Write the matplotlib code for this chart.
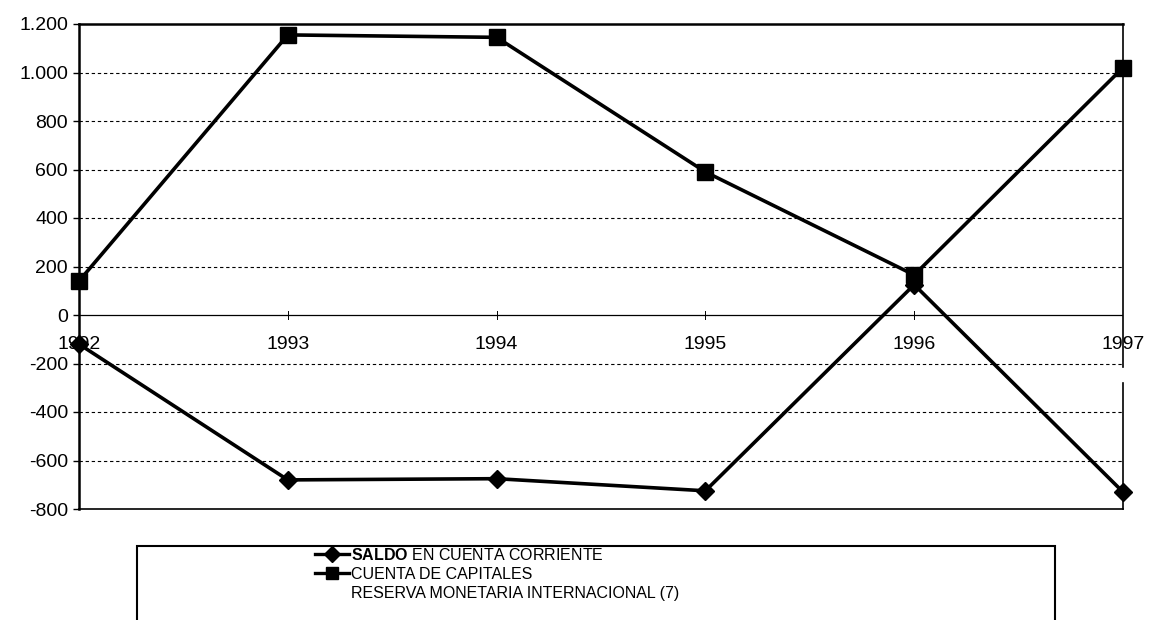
import matplotlib
matplotlib.use("Agg")
import matplotlib.pyplot as plt
from matplotlib.lines import Line2D
from matplotlib.patches import Rectangle
from matplotlib import rcParams

rcParams.update({
    "font.family": ["Liberation Sans", "DejaVu Sans"],
    "mathtext.fontset": "custom",
    "mathtext.rm": "Liberation Sans",
    "mathtext.bf": "Liberation Sans:bold",
})

# --- datos ---
anios = [1992, 1993, 1994, 1995, 1996, 1997]
saldo_cuenta_corriente = [-120, -680, -675, -725, 125, -730]
cuenta_capitales = [140, 1155, 1145, 590, 165, 1020]
y_ticks = [-800, -600, -400, -200, 0, 200, 400, 600, 800, 1000, 1200]
y_labels = ["-800", "-600", "-400", "-200", "0", "200", "400", "600", "800", "1.000", "1.200"]
etiquetas_leyenda = [
    r"$\mathbf{SALDO}$ EN CUENTA CORRIENTE",
    "CUENTA DE CAPITALES",
    "RESERVA MONETARIA INTERNACIONAL (7)",
]

fig = plt.figure(figsize=(11.49, 6.2), dpi=100)
ax = fig.add_axes([79 / 1149, 1 - 509 / 620, (1123 - 79) / 1149, (509 - 24) / 620])

ax.set_xlim(anios[0], anios[-1])
ax.set_ylim(-800, 1200)

# rejilla punteada
for v in y_ticks:
    if v in (0, -800, 1200):
        continue
    ax.axhline(v, color="black", lw=0.8, ls=(0, (3, 2.5)), zorder=1)
ax.axhline(0, color="black", lw=0.9, zorder=1)

# marcas pequeñas sobre el eje cero
for a in anios[1:-1]:
    ax.plot([a, a], [-15, 15], color="black", lw=0.7, zorder=1)

ax.plot(anios, saldo_cuenta_corriente, color="black", lw=2.6, marker="D",
        markersize=9, clip_on=False, zorder=3)
ax.plot(anios, cuenta_capitales, color="black", lw=2.6, marker="s",
        markersize=11, clip_on=False, zorder=3)

# etiquetas de años bajo la línea cero
for a in anios:
    ax.annotate(str(a), (a, 0), xytext=(0, -15), textcoords="offset points",
                ha="center", va="top", fontsize=14)

ax.set_xticks([])
ax.set_yticks(y_ticks)
ax.set_yticklabels(y_labels, fontsize=14)
ax.tick_params(axis="y", length=4, width=1, pad=4)

ax.spines["left"].set_linewidth(1.8)
ax.spines["top"].set_linewidth(1.8)
ax.spines["bottom"].set_linewidth(1.2)
ax.spines["right"].set_visible(False)
# borde derecho con un corte cerca de la etiqueta 1997
ax.plot([1, 1], [1, 0.293], transform=ax.transAxes, color="black", lw=1.2, clip_on=False)
ax.plot([1, 1], [0.26, 0], transform=ax.transAxes, color="black", lw=1.2, clip_on=False)

# leyenda
fig.add_artist(Rectangle((137 / 1149, -0.05), (1055 - 137) / 1149, 1 - 546 / 620 + 0.05,
                         transform=fig.transFigure, fill=False, lw=1.5, ec="black"))
handles = [
    Line2D([], [], color="black", lw=2.4, marker="D", markersize=8),
    Line2D([], [], color="black", lw=2.4, marker="s", markersize=9),
    Line2D([], [], color="none"),
]
leg = fig.legend(handles, etiquetas_leyenda, loc="upper left",
                 bbox_to_anchor=(315 / 1149, 1 - 547 / 620),
                 frameon=False, handlelength=2.1, handletextpad=0.15,
                 labelspacing=0.25, borderpad=0, borderaxespad=0,
                 prop={"family": "Liberation Sans", "size": 11.5})

fig.savefig("out.png", dpi=100)
